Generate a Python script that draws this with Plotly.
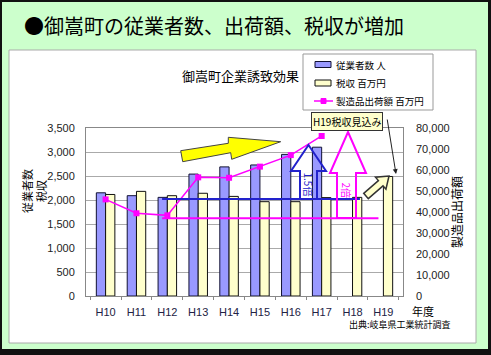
import math
import plotly.graph_objects as go

# ---------------- data ----------------
years = ["H10", "H11", "H12", "H13", "H14", "H15", "H16", "H17", "H18", "H19"]
employees = [2150, 2090, 2055, 2540, 2690, 2730, 2950, 3100, None, None]      # 従業者数 人
tax = [2115, 2180, 2090, 2140, 2075, 1965, 1965, 2050, 2055, 2490]             # 税収 百万円
shipments = [46000, 39400, 38400, 56500, 56300, 61600, 67100, 76200, None, None]  # 製造品出荷額 百万円
ref_employees = 2020     # 基準線 (従業者数)
ref_shipments = 37000    # 基準線 (出荷額)
series_names = ["従業者数 人", "税収 百万円", "製造品出荷額 百万円"]

# ---------------- geometry helpers ----------------
W, H = 491, 355
L, R, T, B = 86, 403, 128, 296

BLUE_FILL, YEL_FILL, MAG = "#9999ff", "#ffffcc", "#ff00ff"


def px(X):
    return (X - L) / (R - L)


def py(Y):
    return (B - Y) / (B - T)


def path(points):
    s = "M " + " L ".join(f"{px(x):.5f},{py(y):.5f}" for x, y in points) + " Z"
    return s


JP = "Noto Sans CJK JP"
NUM = "Liberation Sans, Arial"

fig = go.Figure()

fig.add_trace(go.Bar(
    x=years, y=employees, name=series_names[0], showlegend=False,
    marker=dict(color=BLUE_FILL, line=dict(color="#111133", width=1)),
))
fig.add_trace(go.Bar(
    x=years, y=tax, name=series_names[1], showlegend=False,
    marker=dict(color=YEL_FILL, line=dict(color="#111111", width=1)),
))
fig.add_trace(go.Scatter(
    x=years, y=shipments, name=series_names[2], yaxis="y2", showlegend=False,
    mode="lines+markers",
    line=dict(color=MAG, width=1.5),
    marker=dict(symbol="square", size=6, color=MAG),
))

shapes = []
# background frame
shapes.append(dict(type="rect", xref="paper", yref="paper", layer="below",
                   x0=px(0), x1=px(491), y0=py(0), y1=py(355),
                   fillcolor="#111111", line=dict(width=0)))
shapes.append(dict(type="rect", xref="paper", yref="paper", layer="below",
                   x0=px(2), x1=px(488), y0=py(2), y1=py(349),
                   fillcolor="#ccffcc", line=dict(width=0)))
shapes.append(dict(type="rect", xref="paper", yref="paper", layer="below",
                   x0=px(9), x1=px(476), y0=py(50), y1=py(343),
                   fillcolor="#ffffff", line=dict(color="#aaaaaa", width=1)))

# reference lines
shapes.append(dict(type="line", xref="x", yref="y", x0=1.83, x1=8.24,
                   y0=ref_employees, y1=ref_employees,
                   line=dict(color="#2222cc", width=2)))
shapes.append(dict(type="line", xref="x", yref="y2", x0=1.83, x1=8.84,
                   y0=ref_shipments, y1=ref_shipments,
                   line=dict(color=MAG, width=2)))

# big yellow arrow
yellow_pts = [(180.7, 150.7), (228.3, 143.3), (228.3, 137.3), (280.7, 141.7),
              (231.7, 159.3), (230.7, 152.7), (182.7, 161.7)]
shapes.append(dict(type="path", xref="paper", yref="paper", path=path(yellow_pts),
                   fillcolor="#ffff00", line=dict(color="#444444", width=1)))

# blue 1.5倍 arrow
blue_pts = [(308.5, 145), (326, 171), (317, 171), (317, 199), (300, 199),
            (300, 171), (291, 171)]
shapes.append(dict(type="path", xref="paper", yref="paper", path=path(blue_pts),
                   fillcolor="rgba(255,255,255,0)", line=dict(color="#2222cc", width=2)))

# magenta 2倍 arrow
mag_pts = [(348, 132), (366, 173), (356, 173), (356, 218), (337, 218),
           (337, 173), (330, 173)]
shapes.append(dict(type="path", xref="paper", yref="paper", path=path(mag_pts),
                   fillcolor="rgba(255,255,255,0)", line=dict(color=MAG, width=2)))

# small block arrow toward H19
tx, ty, hx, hy = 366, 196, 389, 176
dx, dy = hx - tx, hy - ty
ln = math.hypot(dx, dy)
ux, uy = dx / ln, dy / ln
nx, ny = -uy, ux
hl, sw, hw = 11, 3.5, 8
bx, by = hx - ux * hl, hy - uy * hl
small_pts = [(tx + nx * sw, ty + ny * sw), (bx + nx * sw, by + ny * sw),
             (bx + nx * hw, by + ny * hw), (hx, hy), (bx - nx * hw, by - ny * hw),
             (bx - nx * sw, by - ny * sw), (tx - nx * sw, ty - ny * sw)]
shapes.append(dict(type="path", xref="paper", yref="paper", path=path(small_pts),
                   fillcolor=YEL_FILL, line=dict(color="#333333", width=1.5)))

# ---------------- custom legend ----------------
shapes.append(dict(type="rect", xref="paper", yref="paper",
                   x0=px(303), x1=px(433), y0=py(54), y1=py(110),
                   fillcolor="#ffffff", line=dict(color="#999999", width=1)))
leg_y = [64.5, 83, 101]
shapes.append(dict(type="rect", xref="paper", yref="paper",
                   x0=px(315), x1=px(331), y0=py(leg_y[0] - 3), y1=py(leg_y[0] + 3),
                   fillcolor=BLUE_FILL, line=dict(color="#111133", width=1)))
shapes.append(dict(type="rect", xref="paper", yref="paper",
                   x0=px(315), x1=px(331), y0=py(leg_y[1] - 3), y1=py(leg_y[1] + 3),
                   fillcolor=YEL_FILL, line=dict(color="#111111", width=1)))
shapes.append(dict(type="line", xref="paper", yref="paper",
                   x0=px(314), x1=px(333), y0=py(leg_y[2]), y1=py(leg_y[2]),
                   line=dict(color=MAG, width=1.5)))
shapes.append(dict(type="rect", xref="paper", yref="paper",
                   x0=px(321), x1=px(326), y0=py(leg_y[2] - 2.5), y1=py(leg_y[2] + 2.5),
                   fillcolor=MAG, line=dict(color=MAG, width=1)))

annotations = [
    dict(text="●御嵩町の従業者数、出荷額、税収が増加", x=px(22), y=py(25),
         xanchor="left", yanchor="middle", showarrow=False,
         font=dict(family=JP, size=20, color="#000000")),
    dict(text="御嵩町企業誘致効果", x=px(240), y=py(75), xanchor="center", yanchor="middle",
         showarrow=False, font=dict(family=JP, size=13, color="#000000")),
    dict(text="従業者数<br>税収", x=px(34), y=py(191), xanchor="center", yanchor="middle",
         textangle=-90, showarrow=False,
         font=dict(family=JP, size=11, color="#000000")),
    dict(text="製造品出荷額", x=px(456), y=py(212), xanchor="center", yanchor="middle",
         textangle=-90, showarrow=False,
         font=dict(family=JP, size=12, color="#000000")),
    dict(text="年度", x=px(423), y=py(310.5), xanchor="center", yanchor="middle",
         showarrow=False, borderpad=0, font=dict(family=JP, size=11, color="#000000")),
    dict(text="出典:岐阜県工業統計調査", x=px(400), y=py(324.5), xanchor="center", yanchor="middle",
         showarrow=False, borderpad=0, font=dict(family=JP, size=9, color="#000000")),
    dict(text="1.5倍", x=px(308.5), y=py(184), xanchor="center", yanchor="middle",
         textangle=90, showarrow=False, font=dict(family=JP, size=10, color="#2222cc")),
    dict(text="2倍", x=px(346.5), y=py(190), xanchor="center", yanchor="middle",
         textangle=90, showarrow=False, font=dict(family=JP, size=10, color=MAG)),
    dict(text="H19税収見込み", x=px(346.5), y=py(122), xanchor="center", yanchor="middle",
         showarrow=False, bgcolor=YEL_FILL, bordercolor="#333333", borderwidth=1,
         borderpad=1, font=dict(family=JP, size=10, color="#000000")),
    dict(text="", x=px(396), y=py(174),
         ax=387 - 396, ay=118 - 174, axref="pixel", ayref="pixel",
         showarrow=True, arrowhead=2, arrowsize=1, arrowwidth=1, arrowcolor="#222222"),
]
for name, yy in zip(series_names, leg_y):
    annotations.append(dict(text=name, x=px(334), y=py(yy), xanchor="left", yanchor="middle",
                            showarrow=False, font=dict(family=JP, size=9.5, color="#000000")))
for a in annotations:
    a.setdefault("xref", "paper")
    a.setdefault("yref", "paper")

fig.update_layout(
    width=W, height=H,
    margin=dict(l=L, r=W - R, t=T, b=H - B, pad=0),
    paper_bgcolor="#ffffff",
    plot_bgcolor="#ffffff",
    barmode="group", bargap=0.4, bargroupgap=0,
    showlegend=False,
    xaxis=dict(type="category", showline=True, linecolor="#888888", mirror=True,
               ticks="outside", ticklen=3, tickcolor="#888888", tickson="boundaries",
               tickfont=dict(family=NUM, size=11, color="#222244"),
               ticklabelstandoff=6, showgrid=False),
    yaxis=dict(range=[0, 3500], dtick=500, tickformat=",d",
               showline=True, linecolor="#888888", mirror=True,
               gridcolor="#aaaaaa", gridwidth=1, ticks="", zeroline=False,
               tickfont=dict(family=NUM, size=11, color="#222222"),
               ticklabelstandoff=8),
    yaxis2=dict(range=[0, 80000], dtick=10000, tickformat=",d", overlaying="y",
                side="right", showgrid=False, zeroline=False, ticks="",
                tickfont=dict(family=NUM, size=11, color="#222222"),
                ticklabelstandoff=12),
    shapes=shapes,
    annotations=annotations,
)

fig.write_html("out.html", config={"displayModeBar": False},
               post_script="document.body.style.margin='0px';document.body.style.overflow='hidden';")
